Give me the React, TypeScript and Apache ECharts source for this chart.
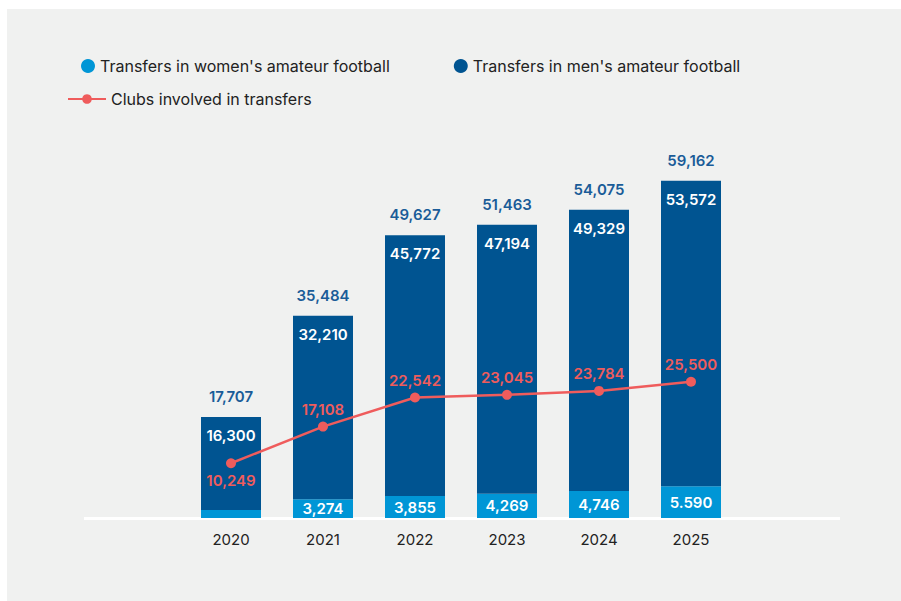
import React, { useEffect, useRef } from "react";
import * as echarts from "echarts";

const years = ["2020", "2021", "2022", "2023", "2024", "2025"];
const womenTransfers = [1407, 3274, 3855, 4269, 4746, 5590];
const womenLabels = ["", "3,274", "3,855", "4,269", "4,746", "5.590"];
const menTransfers = [16300, 32210, 45772, 47194, 49329, 53572];
const totalTransfers = [17707, 35484, 49627, 51463, 54075, 59162];
const clubsInvolved = [10249, 17108, 22542, 23045, 23784, 25500];

const LIGHT = "#0096d6";
const DARK = "#005491";
const RED = "#ef5c5c";
const FONT = "Inter, 'Noto Sans', sans-serif";

const fmt = (v: number) => v.toLocaleString("en-US");

export default function App() {
  const ref = useRef<HTMLDivElement>(null);
  useEffect(() => {
    document.body.style.margin = "0";
    const chart = echarts.init(ref.current!, null, { renderer: "svg" });
    chart.setOption({
      animation: false,
      backgroundColor: "#ffffff",
      textStyle: { fontFamily: FONT },
      graphic: [
        {
          type: "rect",
          z: -10,
          silent: true,
          shape: { x: 7, y: 9, width: 894, height: 592 },
          style: { fill: "#f0f1f0" },
        },
        {
          type: "line",
          z: 0,
          silent: true,
          shape: { x1: 84, y1: 518.5, x2: 840, y2: 518.5 },
          style: { stroke: "#ffffff", lineWidth: 3 },
        },
      ],
      legend: [
        {
          data: ["Transfers in women's amateur football", "Transfers in men's amateur football"],
          left: 76,
          top: 53,
          icon: "circle",
          itemWidth: 14,
          itemHeight: 14,
          itemGap: 64,
          textStyle: { fontSize: 16, color: "#222222", fontFamily: FONT },
        },
        {
          data: ["Clubs involved in transfers"],
          left: 62,
          top: 86,
          itemWidth: 38,
          itemHeight: 12,
          textStyle: { fontSize: 16, color: "#222222", fontFamily: FONT },
        },
      ],
      grid: { left: 185, width: 552, top: 176, bottom: 83 },
      xAxis: {
        type: "category",
        data: years,
        axisLine: { show: false },
        axisTick: { show: false },
        axisLabel: { color: "#222222", fontSize: 15, margin: 14, fontFamily: FONT },
      },
      yAxis: [
        { type: "value", min: 0, max: 60000, show: false },
        { type: "value", min: 0, max: 64000, show: false },
      ],
      series: [
        {
          name: "Transfers in women's amateur football",
          type: "bar",
          stack: "t",
          barWidth: 60,
          itemStyle: { color: LIGHT },
          data: womenTransfers.map((v, i) => ({
            value: v,
            label: { formatter: womenLabels[i] },
          })),
          label: {
            show: true,
            position: "inside",
            color: "#ffffff",
            fontSize: 15,
            fontWeight: 600,
            fontFamily: FONT,
          },
          z: 2,
        },
        {
          name: "Transfers in men's amateur football",
          type: "bar",
          stack: "t",
          barWidth: 60,
          itemStyle: { color: DARK },
          data: menTransfers,
          label: {
            show: true,
            position: "insideTop",
            distance: 11,
            color: "#ffffff",
            fontSize: 15,
            fontWeight: 600,
            fontFamily: FONT,
            formatter: (p: any) => fmt(p.value),
          },
          z: 2,
        },
        {
          name: "total",
          type: "bar",
          barWidth: 60,
          barGap: "-100%",
          itemStyle: { color: "rgba(0,0,0,0)" },
          data: totalTransfers,
          label: {
            show: true,
            position: "top",
            distance: 13,
            color: "#1a5c98",
            fontSize: 15,
            fontWeight: 600,
            fontFamily: FONT,
            formatter: (p: any) => fmt(p.value),
          },
          z: 1,
          silent: true,
        },
        {
          name: "Clubs involved in transfers",
          type: "line",
          yAxisIndex: 1,
          data: clubsInvolved.map((v, i) => ({
            value: v,
            label: { position: i === 0 ? "bottom" : "top" },
          })),
          symbol: "circle",
          symbolSize: 10,
          lineStyle: { color: RED, width: 2.5 },
          itemStyle: { color: RED },
          label: {
            show: true,
            distance: 5,
            color: RED,
            fontSize: 15,
            fontWeight: 600,
            fontFamily: FONT,
            formatter: (p: any) => fmt(p.value),
          },
          z: 5,
        },
      ],
    });
    return () => chart.dispose();
  }, []);
  return <div ref={ref} style={{ width: 901, height: 601 }} />;
}
